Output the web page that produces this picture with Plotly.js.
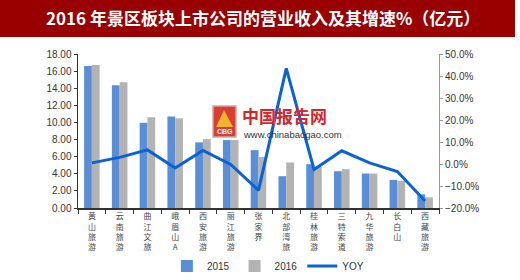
<!DOCTYPE html>
<html>
<head>
<meta charset="utf-8">
<script src="https://cdn.plot.ly/plotly-3.0.1.min.js"></script>
<style>html,body{margin:0;padding:0;background:#fff;}#chart{width:520px;height:280px;}</style>
</head>
<body>
<div id="chart"></div>
<script>
var categories = ["黄山旅游","云南旅游","曲江文旅","峨眉山A","西安旅游","丽江旅游","张家界","北部湾旅","桂林旅游","三特索道","九华旅游","长白山","西藏旅游"];
var revenue2015 = [16.6, 14.35, 9.97, 10.7, 7.67, 7.94, 6.76, 3.72, 5.12, 4.3, 4.03, 3.28, 1.6];
var revenue2016 = [16.7, 14.7, 10.6, 10.48, 8.05, 7.94, 5.98, 5.32, 4.8, 4.54, 4.03, 3.17, 1.25];
var yoy = [0.5, 3.0, 6.4, -1.8, 6.2, -0.2, -12.0, 43.5, -2.5, 6.0, 0.5, -3.4, -16.8];
var legendNames = ["2015", "2016", "YOY"];

function vertical(s){ return s.split("").join("<br>"); }
var tickText = categories.map(vertical);

var traces = [
  {type:"bar", name:legendNames[0], x:categories, y:revenue2015, marker:{color:"#5a8fd8"}, yaxis:"y"},
  {type:"bar", name:legendNames[1], x:categories, y:revenue2016, marker:{color:"#b3b3b3"}, yaxis:"y"},
  {type:"scatter", mode:"lines", name:legendNames[2], x:categories, y:yoy, line:{color:"#0a62d6", width:3}, yaxis:"y2"}
];

function px(x){ return (x-78)/361; }
function py(y){ return (208-y)/154; }

var layout = {
  width:520, height:280,
  margin:{l:78, r:81, t:54, b:72, pad:0, autoexpand:false},
  paper_bgcolor:"#fff", plot_bgcolor:"rgba(0,0,0,0)",
  font:{family:"Liberation Sans, Arial, sans-serif", size:10, color:"#333"},
  title:{text:"<b>2016 年景区板块上市公司的营业收入及其增速%（亿元）</b>", font:{family:"Noto Sans CJK SC", size:17, color:"#ffffff"}, x:0.506, xanchor:"center", y:1-19/280, yanchor:"middle"},
  barmode:"group", bargap:0.44, bargroupgap:0,
  showlegend:true,
  legend:{orientation:"h", x:0.526, xanchor:"center", y:py(266), yanchor:"middle", font:{size:10, color:"#333"}, traceorder:"normal", bgcolor:"rgba(0,0,0,0)"},
  xaxis:{type:"category", tickmode:"array", tickvals:categories, ticktext:tickText, tickfont:{family:"Noto Sans CJK SC", size:8, color:"#444"}, ticks:"outside", tickson:"boundaries", ticklen:4, tickcolor:"#333", showline:true, linecolor:"#333", linewidth:1.5, showgrid:false, zeroline:false, tickangle:0, automargin:false},
  yaxis:{range:[0,18], dtick:2, tickformat:".2f", showgrid:false, zeroline:false, showline:true, linecolor:"#333", linewidth:1.5, ticks:"outside", ticklen:3, tickcolor:"#333", tickfont:{size:10, color:"#333"}, automargin:false},
  yaxis2:{range:[-20,50], dtick:10, tickformat:".1f", ticksuffix:"%", overlaying:"y", side:"right", showgrid:false, zeroline:false, showline:true, linecolor:"#999", linewidth:1, ticks:"outside", ticklen:3, tickcolor:"#999", tickfont:{size:10, color:"#333"}, automargin:false},
  shapes:[
    {type:"rect", xref:"paper", yref:"paper", x0:px(0), x1:px(515), y0:py(37), y1:py(0), fillcolor:"#990000", line:{width:0}, layer:"below"},
    {type:"rect", xref:"paper", yref:"paper", x0:px(213), x1:px(236), y0:py(137), y1:py(106), fillcolor:"#d42a1e", line:{color:"#c9a0a0", width:1.5}, layer:"above", opacity:0.9},
    {type:"path", xref:"paper", yref:"paper", path:"M "+px(216)+" "+py(127)+" L "+px(224)+" "+py(110)+" L "+px(233)+" "+py(127)+" Z", fillcolor:"#f2c230", line:{width:0}, layer:"above", opacity:0.9}
  ],
  annotations:[
    {text:"<b>中国报告网</b>", xref:"paper", yref:"paper", x:px(240), y:py(115), xanchor:"left", yanchor:"middle", showarrow:false, font:{family:"Noto Sans CJK SC", size:17, color:"#d7262b"}},
    {text:"www.chinabaogao.com", xref:"paper", yref:"paper", x:px(241), y:py(134), xanchor:"left", yanchor:"middle", showarrow:false, font:{family:"Liberation Sans, Arial", size:9.5, color:"#333"}},
    {text:"<b>CBG</b>", xref:"paper", yref:"paper", x:px(224.5), y:py(131), xanchor:"center", yanchor:"middle", showarrow:false, font:{family:"Liberation Sans, Arial", size:7, color:"#ffffff"}}
  ]
};

Plotly.newPlot("chart", traces, layout, {displayModeBar:false, staticPlot:true});
</script>
</body>
</html>
